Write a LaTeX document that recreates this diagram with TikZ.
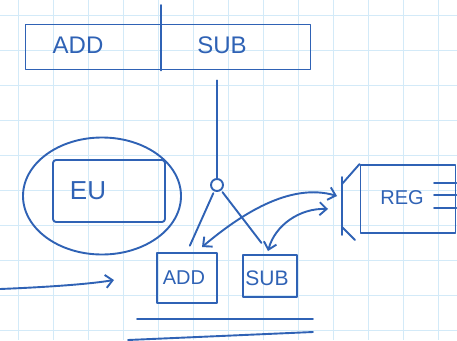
\documentclass[tikz,border=0pt]{standalone}
\usepackage{fontspec}
\setmainfont{Liberation Sans}
\usetikzlibrary{arrows.meta,shapes.geometric}
\definecolor{ink}{HTML}{2F62B5}
\definecolor{gridc}{HTML}{D3EAF8}
\begin{document}
\begin{tikzpicture}[x=1pt,y=-1pt,
  pen/.style={draw=ink,line width=1.9pt,line cap=round,line join=round},
  label/.style={text=ink,inner sep=0pt},
  box/.style={pen,rectangle,inner sep=0pt},
  >={Straight Barb[length=7pt,width=13pt,line width=1.9pt]}]
\useasboundingbox (0,0) rectangle (457,340);
\fill[white] (0,0) rectangle (457,340);
\foreach \x in {18,53,...,438} \draw[gridc,line width=1pt] (\x,0) -- (\x,340);
\foreach \y in {15,50,...,330} \draw[gridc,line width=1pt] (0,\y) -- (457,\y);

% top bar
\node[box,minimum width=285pt,minimum height=45pt] (bar) at (168,47) {};
\coordinate (divtop) at (161,5);
\draw[pen] (divtop) -- (divtop |- bar.south);
\node[label,font=\fontsize{24}{24}\selectfont] (addtop) at (78,45) {ADD};
\node[label,font=\fontsize{24}{24}\selectfont] (subtop) at (222,45) {SUB};

% hub
\node[pen,circle,minimum size=12pt,inner sep=0pt] (hub) at (217,185) {};
\draw[pen] (hub.north |- bar.south) ++(0,10) -- (hub.north);

% ADD / SUB boxes
\node[box,minimum width=60pt,minimum height=50pt] (addbox) at (187,278) {};
\node[label,font=\fontsize{20}{20}\selectfont] (addtxt) at (184,278) {ADD};
\node[box,minimum width=54pt,minimum height=42pt] (subbox) at (270,276) {};
\node[label,font=\fontsize{21}{21}\selectfont] (subtxt) at (267,278) {SUB};
\draw[pen,shorten <=9pt,shorten >=7pt] (hub.center) -- (addbox.north);
\draw[pen,shorten <=9pt,shorten >=14pt] (hub.center) -- (subbox.north);

% EU
\node[pen,ellipse,minimum width=158pt,minimum height=117pt,inner sep=0pt] (euell) at (102,196) {};
\node[box,minimum width=112pt,minimum height=62pt,rounded corners=3pt] (eubox) at (109,191) {};
\node[label,font=\fontsize{26}{26}\selectfont] (eutxt) at (88,191) {EU};

% REG
\node[box,minimum width=95pt,minimum height=68pt] (reg) at (408,199) {};
\node[label,font=\fontsize{20}{20}\selectfont] (regtxt) at (402,198) {REG};
\coordinate (regl) at (342,200);
\draw[pen] (342,177) -- (342,235);
\draw[pen] (342,184) -- (reg.north west);
\draw[pen] (342,227) -- (355,240);
\foreach \yy in {183,195,208} \draw[pen] (434,\yy) -- (reg.east |- 0,\yy);

% curved arrows
\draw[pen,<->] ([xshift=15pt,yshift=5pt]addbox.north) .. controls (240,215) and (290,182) .. ([xshift=-5pt,yshift=4pt]regl);
\draw[pen,<->] ([xshift=-2pt,yshift=3pt]subbox.north) .. controls (275,225) and (300,208) .. ([xshift=-14pt,yshift=-9pt]regl);

% free strokes
\coordinate (inl) at (0,289);
\coordinate (inr) at (114,280);
\draw[pen,->] (inl) .. controls (50,287) and (90,284) .. (inr);
\draw[pen] (137,319) -- (313,319);
\draw[pen] (128,340) -- (313,332);
\end{tikzpicture}
\end{document}
